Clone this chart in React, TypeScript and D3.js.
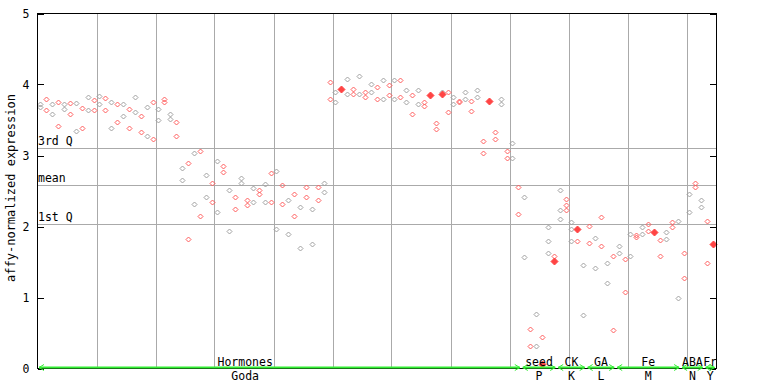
import React from 'react';
import * as d3 from 'd3';

// replicate values per sample, index = position in the array
const sampleValues: number[][] = [
  [3.73, 3.68], [3.79, 3.64], [3.73, 3.59], [3.76, 3.42], [3.72, 3.65],
  [3.74, 3.58], [3.74, 3.35], [3.67, 3.39], [3.82, 3.64], [3.78, 3.64],
  [3.84, 3.72], [3.81, 3.64], [3.76, 3.39], [3.72, 3.47], [3.72, 3.55],
  [3.65, 3.39], [3.82, 3.61], [3.55, 3.33], [3.69, 3.28], [3.75, 3.23],
  [3.65, 3.5], [3.79, 3.76], [3.58, 3.51], [3.47, 3.28], [2.83, 2.66],
  [2.89, 1.83], [3.03, 2.32], [3.06, 2.15], [2.72, 2.42], [2.61, 2.35],
  [2.92, 2.2], [2.85, 2.77], [2.52, 1.93], [2.42, 2.25], [2.68, 2.61],
  [2.38, 2.3], [2.54, 2.34], [2.52, 2.46], [2.6, 2.35], [2.75, 2.34],
  [2.78, 1.96], [2.58, 2.31], [2.37, 1.89], [2.46, 2.15], [2.27, 1.7],
  [2.56, 2.41], [2.25, 1.75], [2.55, 2.37], [2.61, 2.49], [4.03, 3.8],
  [3.89, 3.76], [], [4.08, 3.86], [3.93, 3.86], [4.12, 3.86],
  [3.89, 3.83], [4.0, 3.89], [3.96, 3.8], [4.07, 3.79], [3.99, 3.85],
  [4.07, 3.8], [4.07, 3.83], [3.92, 3.75], [3.85, 3.59], [3.92, 3.73],
  [3.76, 3.7], [], [3.46, 3.38], [3.9], [3.9, 3.61],
  [3.83, 3.73], [3.77, 3.75], [3.89, 3.8], [3.77, 3.62], [3.92, 3.82],
  [3.2, 3.04], [], [3.33, 3.23], [3.79, 3.72], [3.06, 2.96],
  [3.18, 2.96], [2.56, 2.18], [2.42, 1.57], [0.56, 0.32], [0.77, 0.32],
  [0.45], [1.99, 1.8, 1.63], [1.58], [2.52, 2.23, 2.1], [2.39, 2.3, 2.23],
  [2.07, 1.96, 1.8], [1.8], [1.46, 0.75], [2.01, 1.77], [1.84, 1.42],
  [2.13, 1.73], [1.48, 1.2], [1.59, 0.54], [1.72, 1.62], [1.54, 1.08],
  [1.89, 1.59], [1.88, 1.85], [1.99, 1.89], [2.03, 1.94], [],
  [1.81, 1.58], [1.92, 1.82], [2.06, 1.99], [2.08, 0.99], [1.62, 1.27],
  [2.46, 2.2], [2.61, 2.55], [2.38, 2.28], [2.08, 1.48], [],
];

// highlighted (filled) points: [sample index, value]
const highlighted: [number, number][] = [
  [51, 3.94], [66, 3.85], [68, 3.86], [76, 3.77], [85, 0.07],
  [87, 1.52], [91, 1.97], [104, 1.92], [114, 1.75],
];

const refLabels = ['3rd Q', 'mean', '1st Q'];
const refValues = [3.1, 2.58, 2.03];

const studies = ['Hormones', 'seed', 'CK', 'GA', 'Fe', 'ABA', 'Fr'];
const studyCodes = ['Goda', 'P', 'K', 'L', 'M', 'N', 'Y'];
const studyStart = [0, 82, 88, 93, 98, 109, 113];
const studyEnd = [82, 88, 93, 98, 109, 113, 115];

const yTicks = [0, 1, 2, 3, 4, 5];
const xGrid = [10, 20, 30, 40, 50, 60, 70, 80, 90, 100, 110];

const W = 768;
const H = 384;
const font = '"DejaVu Sans Mono", monospace';

export default function App() {
  const x = d3.scaleLinear().domain([0, 115]).range([37.5, 716]);
  const y = d3.scaleLinear().domain([0, 5]).range([368.5, 13.5]);

  // pixel-snapped diamond
  const diamond = (cx: number, cy: number, r: number) => {
    const px = Math.round(cx) + 0.5;
    const py = Math.round(cy) + 0.5;
    return `M${px},${py - r}L${px + r},${py}L${px},${py + r}L${px - r},${py}Z`;
  };

  const green = '#33ee33';
  const gy = 367.5;

  return (
    <svg width={W} height={H} style={{ position: 'absolute', left: 0, top: 0, background: '#fff' }}>
      {/* grid */}
      {xGrid.map(g => (
        <line key={'g' + g} x1={Math.round(x(g)) + 0.5} x2={Math.round(x(g)) + 0.5} y1={y(5)} y2={y(0)}
          stroke="#aaa" shapeRendering="crispEdges" />
      ))}
      {refValues.map((v, i) => (
        <g key={'r' + i}>
          <line x1={x(0)} x2={x(115)} y1={Math.round(y(v)) + 0.5} y2={Math.round(y(v)) + 0.5}
            stroke="#aaa" shapeRendering="crispEdges" />
          <text x={x(0) + 0.5} y={Math.round(y(v)) - 3} fontFamily={font} fontSize={11.5}>{refLabels[i]}</text>
        </g>
      ))}

      {/* points */}
      {sampleValues.map((vals, i) =>
        vals.map((v, j) => (
          <path key={`p${i}-${j}`} d={diamond(x(i + 0.5), y(v), 2.5)} fill="none"
            stroke={i % 2 === 0 ? '#a0a0a0' : '#ff5c5c'} strokeWidth={1} />
        ))
      )}
      {highlighted.map(([i, v], k) => (
        <path key={'h' + k} d={diamond(x(i + 0.5), y(v), 3.5)} fill="#ff4444" stroke="#ff4444" />
      ))}

      {/* frame */}
      <rect x={x(0)} y={y(5)} width={x(115) - x(0)} height={y(0) - y(5)} fill="none" stroke="#000"
        shapeRendering="crispEdges" />
      {yTicks.map(t => (
        <g key={'t' + t}>
          <line x1={x(0)} x2={x(0) + 6} y1={Math.round(y(t)) + 0.5} y2={Math.round(y(t)) + 0.5} stroke="#000" shapeRendering="crispEdges" />
          <line x1={x(115) - 6} x2={x(115)} y1={Math.round(y(t)) + 0.5} y2={Math.round(y(t)) + 0.5} stroke="#000" shapeRendering="crispEdges" />
          <text x={26} y={y(t)} textAnchor="middle" dominantBaseline="central" fontFamily={font} fontSize={11.5}>{t}</text>
        </g>
      ))}

      <text transform={`translate(15,188) rotate(-90)`} textAnchor="middle" fontFamily={font} fontSize={12}>
        affy-normalized expression
      </text>

      {/* study annotations */}
      {studies.map((s, i) => {
        const sx = x(studyStart[i]) + 1.5;
        const ex = x(studyEnd[i]) - 1.5;
        // the long Hormones label sits left of its span centre
        const cx = i === 0 ? x(35.2) : (x(studyStart[i]) + x(studyEnd[i])) / 2;
        return (
          <g key={'s' + i}>
            <line x1={sx} x2={ex} y1={gy} y2={gy} stroke={green} strokeWidth={2} />
            <polyline points={`${sx + 5},${gy - 3} ${sx},${gy} ${sx + 5},${gy + 3}`} fill="none" stroke={green} />
            <polyline points={`${ex - 5},${gy - 3} ${ex},${gy} ${ex - 5},${gy + 3}`} fill="none" stroke={green} />
            <text x={cx} y={365.5} textAnchor="middle" fontFamily={font} fontSize={11.5}>{s}</text>
            <text x={cx} y={380} textAnchor="middle" fontFamily={font} fontSize={11.5}>{studyCodes[i]}</text>
          </g>
        );
      })}
    </svg>
  );
}
